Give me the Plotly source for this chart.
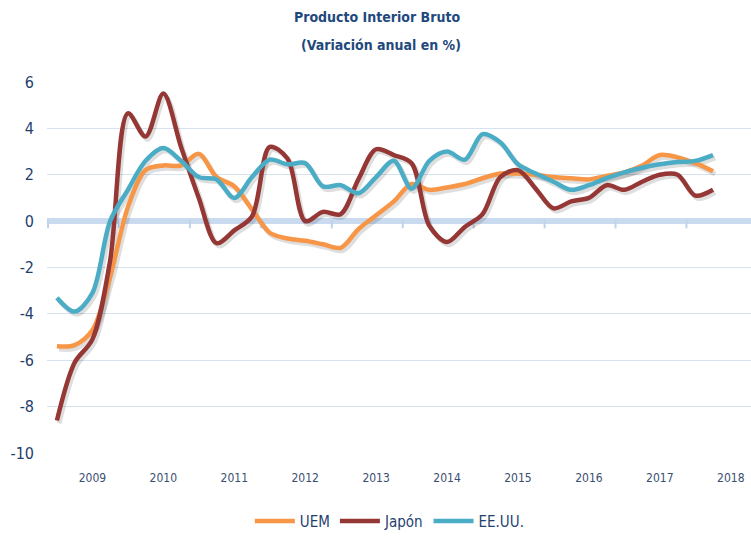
import plotly.graph_objects as go

# Quarterly observations 2009Q1 .. 2018Q2 (index 0..37)
quarter_idx = list(range(38))

uem = [-5.4, -5.35, -4.7, -2.4, 0.6, 2.2, 2.4, 2.4, 2.9, 1.9, 1.5, 0.5,
       -0.5, -0.75, -0.85, -1.0, -1.15, -0.35, 0.25, 0.85, 1.6, 1.35, 1.45, 1.6,
       1.85, 2.05, 2.05, 2.0, 1.9, 1.85, 1.8, 1.95, 2.1, 2.4, 2.85, 2.75, 2.5, 2.15]

japon = [-8.6, -6.1, -5.1, -1.7, 4.65, 3.65, 5.5, 3.2, 1.0, -0.95, -0.4, 0.2,
         3.2, 2.7, 0.0, 0.4, 0.3, 1.8, 3.1, 2.85, 2.5, -0.2, -0.9, -0.25,
         0.3, 1.9, 2.2, 1.4, 0.55, 0.85, 1.0, 1.55, 1.35, 1.7, 2.0, 2.0, 1.1, 1.35]

eeuu = [-3.3, -3.9, -3.1, 0.0, 1.35, 2.6, 3.15, 2.6, 1.9, 1.8, 1.0, 1.9,
        2.65, 2.45, 2.5, 1.5, 1.55, 1.2, 1.9, 2.6, 1.4, 2.6, 3.0, 2.65,
        3.75, 3.4, 2.45, 2.05, 1.7, 1.35, 1.55, 1.85, 2.1, 2.3, 2.45, 2.55, 2.6, 2.85]

year_labels = ["2009", "2010", "2011", "2012", "2013", "2014", "2015", "2016", "2017", "2018"]
year_label_pos = [2, 6, 10, 14, 18, 22, 26, 30, 34, 38]
year_boundaries = [-0.5, 3.5, 7.5, 11.5, 15.5, 19.5, 23.5, 27.5, 31.5, 35.5]
y_ticks = [-10, -8, -6, -4, -2, 0, 2, 4, 6]
y_ticktext = ["-10", "-8", "-6", "-4", "-2", "0", "2", "4", "6"]

series = [("UEM", uem, "#F79646"), ("Japón", japon, "#953735"), ("EE.UU.", eeuu, "#4BACC6")]

FONT = "DejaVu Sans Condensed, Liberation Sans Narrow, sans-serif"
NAVY = "#1F3F6E"

fig = go.Figure()

# small tick marks hanging under the zero line at year boundaries
fig.add_trace(go.Scatter(
    x=year_boundaries, y=[-0.13] * len(year_boundaries), mode="markers",
    marker=dict(symbol="line-ns", size=6, line=dict(color="#BFD3EC", width=2)),
    showlegend=False, hoverinfo="skip"))

# soft drop shadows
for name, vals, col in series:
    fig.add_trace(go.Scatter(
        x=[q + 0.12 for q in quarter_idx], y=[v - 0.12 for v in vals],
        mode="lines", line=dict(color="rgba(0,0,0,0.13)", width=5, shape="spline", smoothing=0.9),
        showlegend=False, hoverinfo="skip"))

for name, vals, col in series:
    fig.add_trace(go.Scatter(
        x=quarter_idx, y=vals, name=name, mode="lines",
        line=dict(color=col, width=4.5, shape="spline", smoothing=0.9)))

fig.update_layout(
    width=751, height=538,
    margin=dict(l=47, r=0, t=82, b=85),
    paper_bgcolor="white", plot_bgcolor="white",
    font=dict(family=FONT, color=NAVY),
    showlegend=True,
    legend=dict(orientation="h", x=0.487, xanchor="center", y=-0.184, yanchor="middle",
                font=dict(size=15, color=NAVY, family=FONT), itemwidth=40,
                traceorder="normal"),
)
ph = 538 - 82 - 85
fig.add_annotation(text="<b>Producto Interior Bruto</b>", xref="paper", yref="paper",
                   x=(377 - 47) / 704, y=1 + (82 - 17) / ph, yanchor="middle", showarrow=False,
                   font=dict(size=14, color="#1F497D", family=FONT))
fig.add_annotation(text="<b>(Variación anual en %)</b>", xref="paper", yref="paper",
                   x=(381 - 47) / 704, y=1 + (82 - 45) / ph, yanchor="middle", showarrow=False,
                   font=dict(size=14, color="#1F497D", family=FONT))

fig.update_xaxes(
    range=[-0.56, 39.14], tickmode="array", tickvals=year_label_pos, ticktext=year_labels,
    showgrid=False, zeroline=False, showline=False, ticks="",
    tickfont=dict(size=12, color="#3A4E70", family=FONT), ticklabelstandoff=16,
)
fig.update_yaxes(
    range=[-10, 6], tickmode="array", tickvals=y_ticks, ticktext=y_ticktext,
    showgrid=True, gridcolor="#D6E2F0", gridwidth=1.2,
    zeroline=True, zerolinecolor="#CADBF0", zerolinewidth=5.5,
    showline=False, ticks="", tickfont=dict(size=16, color=NAVY, family=FONT),
    ticklabelstandoff=12,
)

fig.write_html("out.html", config={"displayModeBar": False},
               post_script="document.body.style.margin='0';document.body.style.overflow='hidden';")
